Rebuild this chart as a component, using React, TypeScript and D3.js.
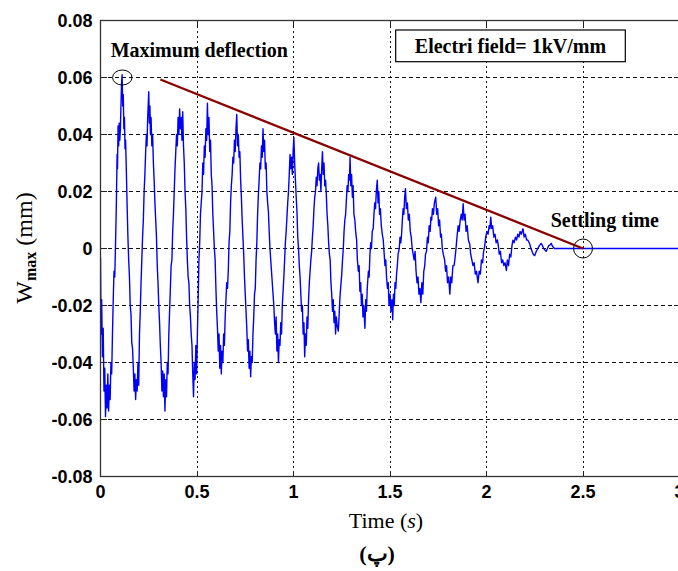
import React from 'react';
import * as d3 from 'd3';

const WIDTH = 678;
const HEIGHT = 571;

const xTicks = [0, 0.5, 1, 1.5, 2, 2.5, 3];
const xTickLabels = ['0', '0.5', '1', '1.5', '2', '2.5', '3'];
const yTicks = [-0.08, -0.06, -0.04, -0.02, 0, 0.02, 0.04, 0.06, 0.08];
const yTickLabels = ['-0.08', '-0.06', '-0.04', '-0.02', '0', '0.02', '0.04', '0.06', '0.08'];

// trend (envelope) line, from max deflection toward settling time
const trendLine: [number, number][] = [[0.31, 0.0593], [2.5, 0]];
// annotated points: maximum deflection, settling time
const markerMax: [number, number] = [0.113, 0.06];
const markerSettle: [number, number] = [2.5, 0];

const annotationMax = 'Maximum deflection';
const annotationSettle = 'Settling time';
const legendText = 'Electri field= 1kV/mm';
const xLabel = 'Time';
const caption = '(پ)';

// W_max (mm) vs time (s)
const signal: [number, number][] = [
  [0.000,-0.003],[0.003,-0.030],[0.006,-0.018],[0.010,-0.038],[0.014,-0.028],[0.018,-0.050],[0.022,-0.042],[0.026,-0.059],
  [0.030,-0.048],[0.034,-0.056],[0.038,-0.044],[0.042,-0.057],[0.046,-0.048],[0.050,-0.053],[0.054,-0.040],[0.058,-0.044],
  [0.062,-0.030],[0.066,-0.018],[0.070,-0.008],[0.074,-0.010],[0.078,0.002],[0.082,0.015],[0.086,0.033],[0.088,0.028],
  [0.091,0.043],[0.094,0.036],[0.097,0.044],[0.100,0.038],[0.103,0.042],[0.106,0.050],[0.109,0.058],[0.112,0.061],
  [0.115,0.050],[0.118,0.054],[0.121,0.042],[0.124,0.046],[0.127,0.035],[0.130,0.038],[0.134,0.027],[0.138,0.015],
  [0.142,0.004],[0.146,-0.004],[0.150,-0.010],[0.154,-0.020],[0.158,-0.023],[0.162,-0.033],[0.166,-0.035],[0.170,-0.042],
  [0.174,-0.050],[0.178,-0.044],[0.182,-0.053],[0.186,-0.046],[0.190,-0.050],[0.194,-0.040],[0.198,-0.048],[0.202,-0.030],
  [0.206,-0.022],[0.210,-0.012],[0.214,-0.004],[0.218,0.004],[0.222,0.010],[0.226,0.020],[0.230,0.026],[0.234,0.034],
  [0.238,0.040],[0.241,0.036],[0.244,0.045],[0.247,0.050],[0.250,0.055],[0.253,0.044],[0.256,0.050],[0.259,0.040],
  [0.262,0.046],[0.266,0.036],[0.270,0.040],[0.274,0.030],[0.278,0.024],[0.282,0.016],[0.286,0.010],[0.290,0.004],
  [0.294,-0.006],[0.298,-0.012],[0.302,-0.020],[0.306,-0.026],[0.310,-0.034],[0.314,-0.040],[0.318,-0.050],[0.322,-0.043],
  [0.326,-0.052],[0.330,-0.044],[0.334,-0.057],[0.338,-0.046],[0.342,-0.052],[0.346,-0.040],[0.350,-0.044],[0.354,-0.030],
  [0.358,-0.022],[0.362,-0.014],[0.366,-0.006],[0.370,-0.004],[0.374,0.006],[0.378,0.012],[0.382,0.020],[0.386,0.028],
  [0.390,0.034],[0.394,0.040],[0.398,0.036],[0.402,0.046],[0.406,0.040],[0.410,0.049],[0.414,0.042],[0.418,0.046],
  [0.422,0.038],[0.426,0.048],[0.430,0.036],[0.434,0.030],[0.438,0.020],[0.442,0.014],[0.446,0.004],[0.450,-0.004],
  [0.454,-0.010],[0.458,-0.012],[0.462,-0.020],[0.466,-0.024],[0.470,-0.030],[0.474,-0.034],[0.478,-0.044],[0.482,-0.052],
  [0.486,-0.040],[0.490,-0.046],[0.494,-0.034],[0.498,-0.044],[0.502,-0.030],[0.506,-0.018],
  [0.510,-0.004],[0.514,0.002],[0.518,0.012],[0.522,0.016],[0.526,0.020],[0.530,0.030],[0.534,0.026],[0.538,0.036],
  [0.542,0.032],[0.546,0.042],[0.550,0.038],[0.554,0.051],[0.558,0.040],[0.562,0.046],[0.566,0.034],[0.570,0.038],
  [0.574,0.026],[0.578,0.022],[0.582,0.012],[0.586,0.006],[0.590,0.000],[0.594,-0.004],[0.598,-0.014],[0.602,-0.022],
  [0.606,-0.028],[0.610,-0.036],[0.614,-0.030],[0.618,-0.042],[0.622,-0.034],[0.626,-0.044],[0.630,-0.036],[0.634,-0.040],
  [0.638,-0.030],[0.642,-0.034],[0.646,-0.024],
  [0.650,-0.018],[0.654,-0.012],[0.658,-0.014],[0.662,-0.008],[0.666,0.002],[0.670,0.006],[0.674,0.016],[0.678,0.022],
  [0.682,0.026],[0.686,0.032],[0.690,0.030],[0.694,0.038],[0.698,0.034],[0.702,0.042],[0.706,0.047],[0.710,0.036],
  [0.714,0.040],[0.718,0.032],[0.722,0.034],[0.726,0.024],[0.730,0.018],[0.734,0.010],[0.738,0.004],[0.742,-0.002],
  [0.746,-0.010],[0.750,-0.016],[0.754,-0.022],[0.758,-0.028],[0.762,-0.036],[0.766,-0.032],[0.770,-0.042],[0.774,-0.036],
  [0.778,-0.045],[0.782,-0.038],[0.786,-0.040],[0.790,-0.030],
  [0.794,-0.024],[0.798,-0.016],[0.802,-0.014],[0.806,-0.004],[0.810,0.002],[0.814,0.012],[0.818,0.019],[0.822,0.024],
  [0.826,0.030],[0.830,0.028],[0.834,0.036],[0.838,0.032],[0.842,0.042],[0.846,0.034],[0.850,0.038],[0.854,0.028],
  [0.858,0.030],[0.862,0.020],[0.866,0.016],[0.870,0.013],[0.874,0.006],[0.878,0.000],[0.882,-0.004],[0.886,-0.008],
  [0.890,-0.012],[0.894,-0.016],[0.898,-0.020],[0.902,-0.026],[0.906,-0.030],[0.910,-0.024],[0.914,-0.036],[0.918,-0.030],
  [0.922,-0.040],[0.926,-0.032],[0.930,-0.034],[0.934,-0.026],[0.938,-0.030],[0.942,-0.020],
  [0.946,-0.015],[0.950,-0.010],[0.954,-0.004],[0.958,0.002],[0.962,0.006],[0.966,0.011],[0.970,0.016],[0.974,0.020],
  [0.978,0.026],[0.982,0.033],[0.986,0.028],[0.990,0.032],[0.994,0.026],[0.998,0.034],[1.002,0.039],[1.006,0.030],
  [1.010,0.024],[1.014,0.018],[1.018,0.013],[1.022,0.004],[1.026,0.000],[1.030,-0.006],[1.034,-0.010],[1.038,-0.016],
  [1.042,-0.022],[1.046,-0.020],[1.050,-0.030],[1.054,-0.026],[1.058,-0.038],[1.062,-0.030],[1.066,-0.034],[1.070,-0.024],
  [1.074,-0.028],[1.078,-0.018],
  [1.082,-0.012],[1.086,-0.008],[1.090,-0.004],[1.094,-0.001],[1.098,0.004],[1.102,0.008],[1.106,0.014],[1.110,0.018],
  [1.114,0.020],[1.118,0.025],[1.122,0.022],[1.126,0.028],[1.130,0.030],[1.134,0.024],[1.138,0.026],[1.142,0.020],
  [1.146,0.028],[1.150,0.034],[1.154,0.026],[1.158,0.030],[1.162,0.022],[1.166,0.024],[1.170,0.019],[1.174,0.012],
  [1.178,0.008],[1.182,0.002],[1.186,-0.002],[1.190,-0.004],[1.194,-0.012],[1.198,-0.016],[1.202,-0.022],[1.206,-0.018],
  [1.210,-0.026],[1.214,-0.022],[1.218,-0.030],[1.222,-0.024],[1.226,-0.027],[1.232,-0.029],
  [1.236,-0.024],[1.240,-0.018],[1.244,-0.014],[1.250,-0.009],[1.254,-0.004],[1.258,0.000],[1.262,0.006],[1.266,0.010],
  [1.270,0.012],[1.274,0.017],[1.278,0.022],[1.282,0.020],[1.286,0.026],[1.290,0.024],[1.293,0.032],[1.297,0.022],
  [1.301,0.026],[1.305,0.018],[1.309,0.022],[1.313,0.012],[1.318,0.010],[1.322,0.006],[1.327,0.003],[1.331,-0.004],
  [1.336,-0.008],[1.340,-0.006],[1.344,-0.015],[1.348,-0.012],[1.352,-0.020],[1.356,-0.016],[1.360,-0.024],[1.364,-0.020],
  [1.370,-0.028],[1.374,-0.018],[1.378,-0.022],[1.382,-0.014],
  [1.388,-0.008],[1.392,-0.010],[1.396,-0.002],[1.400,0.002],[1.404,0.000],[1.408,0.006],[1.413,0.007],[1.417,0.012],
  [1.421,0.016],[1.425,0.014],[1.429,0.020],[1.434,0.024],[1.438,0.016],[1.442,0.020],[1.446,0.012],[1.450,0.014],
  [1.455,0.008],[1.460,0.005],[1.465,0.003],[1.470,-0.002],[1.474,-0.006],[1.478,-0.004],[1.482,-0.010],[1.487,-0.014],
  [1.491,-0.012],[1.495,-0.020],[1.500,-0.016],[1.505,-0.022],[1.510,-0.018],[1.514,-0.025],[1.518,-0.016],[1.522,-0.020],
  [1.526,-0.012],
  [1.530,-0.014],[1.534,-0.009],[1.538,-0.006],[1.542,-0.002],[1.548,0.000],[1.552,0.004],[1.556,0.002],[1.560,0.005],
  [1.564,0.010],[1.568,0.014],[1.572,0.012],[1.576,0.018],[1.580,0.021],[1.585,0.014],[1.590,0.016],[1.595,0.010],
  [1.600,0.012],[1.605,0.006],[1.610,0.004],[1.615,0.000],[1.620,-0.002],[1.625,-0.004],[1.630,-0.001],[1.635,-0.008],
  [1.640,-0.012],[1.645,-0.010],[1.650,-0.016],[1.655,-0.014],[1.660,-0.019],[1.665,-0.012],[1.670,-0.016],[1.675,-0.008],
  [1.680,-0.006],[1.684,-0.002],[1.689,-0.001],[1.694,0.004],[1.698,0.002],[1.703,0.008],[1.708,0.006],[1.712,0.011],
  [1.716,0.010],[1.720,0.014],[1.725,0.012],[1.730,0.016],[1.737,0.018],[1.742,0.012],[1.747,0.014],[1.752,0.008],
  [1.757,0.010],[1.762,0.004],[1.766,0.005],[1.771,0.000],[1.776,-0.002],[1.783,-0.004],[1.788,-0.008],[1.793,-0.006],
  [1.798,-0.012],[1.804,-0.010],[1.810,-0.016],[1.815,-0.010],[1.820,-0.012],[1.826,-0.006],
  [1.832,-0.006],[1.836,-0.004],[1.842,0.000],[1.847,0.004],[1.853,0.008],[1.858,0.006],[1.864,0.010],[1.869,0.012],
  [1.874,0.010],[1.879,0.0157],[1.884,0.010],[1.889,0.012],[1.894,0.006],[1.900,0.008],[1.906,0.003],[1.913,0.0016],
  [1.918,-0.002],[1.924,-0.004],[1.930,-0.006],[1.936,-0.005],[1.942,-0.009],[1.948,-0.008],[1.956,-0.012],[1.962,-0.008],
  [1.968,-0.009],[1.974,-0.004],[1.980,-0.005],[1.985,-0.001],
  [1.990,0.0005],[1.996,0.004],[2.002,0.006],[2.008,0.005],[2.014,0.008],[2.018,0.007],[2.022,0.011],[2.027,0.007],
  [2.032,0.008],[2.038,0.004],[2.044,0.005],[2.050,0.002],[2.056,0.003],[2.060,0.0016],[2.066,-0.002],[2.072,-0.001],
  [2.078,-0.005],[2.084,-0.004],[2.090,-0.006],[2.096,-0.005],[2.103,-0.0077],[2.108,-0.004],[2.114,-0.006],[2.120,-0.002],
  [2.126,-0.003],[2.132,0.001],
  [2.137,0.0029],[2.143,0.002],[2.150,0.004],[2.156,0.003],[2.162,0.005],[2.168,0.004],[2.174,0.006],[2.180,0.005],
  [2.189,0.0069],[2.195,0.004],[2.201,0.005],[2.208,0.003],[2.214,0.003],[2.224,0.0016],[2.230,0.000],[2.236,-0.001],
  [2.242,-0.002],[2.250,-0.0025],[2.258,-0.001],[2.266,0.000],[2.274,0.001],[2.283,0.0018],[2.290,0.001],[2.296,0.000],
  [2.302,-0.0005],[2.309,-0.001],[2.316,0.000],[2.322,0.001],[2.328,0.0012],[2.335,0.0018],[2.342,0.0008],[2.352,0.0],
  [2.370,0.0],[3.0,0.0],
];

const SERIF = '"Liberation Serif", "Times New Roman", "DejaVu Serif", serif';
const SANS = '"Liberation Sans", Arial, sans-serif';

export default function App() {
  const x = d3.scaleLinear().domain([0, 3]).range([100.5, 679.5]);
  const y = d3.scaleLinear().domain([-0.08, 0.08]).range([476.5, 20.5]);
  const line = d3.line<[number, number]>().x((d) => x(d[0])).y((d) => y(d[1]));
  const x0 = x(0), x1 = x(3), y0 = y(-0.08), y1 = y(0.08);
  const tick = 6;
  const sx = (v: number) => Math.round(x(v) - 0.5) + 0.5;

  return (
    <svg width={WIDTH} height={HEIGHT} style={{ position: 'absolute', left: 0, top: 0, background: '#fff' }}>
      <defs>
        <clipPath id="plot">
          <rect x={x0} y={y1} width={x1 - x0} height={y0 - y1} />
        </clipPath>
      </defs>
      <rect x={0} y={0} width={WIDTH} height={HEIGHT} fill="#fff" />
      {/* grid */}
      <g stroke="#111" strokeWidth={1} shapeRendering="crispEdges">
        {yTicks.slice(1, -1).map((t) => (
          <line key={'gy' + t} x1={x0} x2={x1} y1={y(t)} y2={y(t)} strokeDasharray="4,3" />
        ))}
        {xTicks.slice(1, -1).map((t) => (
          <line key={'gx' + t} x1={sx(t)} x2={sx(t)} y1={y1} y2={y0} strokeDasharray="2,3" />
        ))}
      </g>
      {/* ticks */}
      <g stroke="#222" strokeWidth={1} shapeRendering="crispEdges">
        {xTicks.map((t) => (
          <g key={'tx' + t}>
            <line x1={sx(t)} x2={sx(t)} y1={y0} y2={y0 - tick} />
            <line x1={sx(t)} x2={sx(t)} y1={y1} y2={y1 + tick} />
          </g>
        ))}
        {yTicks.map((t) => (
          <g key={'ty' + t}>
            <line x1={x0} x2={x0 + tick} y1={y(t)} y2={y(t)} />
            <line x1={x1} x2={x1 - tick} y1={y(t)} y2={y(t)} />
          </g>
        ))}
      </g>
      {/* signal */}
      <g clipPath="url(#plot)">
        <path d={line(signal) || ''} fill="none" stroke="#0000ff" strokeWidth={1.4} strokeLinejoin="round" />
        <path d={line(trendLine) || ''} fill="none" stroke="#8b0000" strokeWidth={2.4} />
      </g>
      {/* markers */}
      <ellipse cx={x(markerMax[0])} cy={y(markerMax[1])} rx={9.7} ry={7.5} fill="none" stroke="#000" strokeWidth={1} />
      <circle cx={x(markerSettle[0])} cy={y(markerSettle[1])} r={9.5} fill="none" stroke="#000" strokeWidth={1} />
      {/* axes frame */}
      <rect x={x0} y={y1} width={x1 - x0} height={y0 - y1} fill="none" stroke="#333" strokeWidth={1.3} />
      {/* tick labels */}
      <g fontFamily={SANS} fontWeight="bold" fontSize={18} fill="#000">
        {yTicks.map((t, i) => (
          <text key={'ly' + t} x={x0 - 8} y={y(t)} textAnchor="end" dominantBaseline="central">
            {yTickLabels[i]}
          </text>
        ))}
        {xTicks.map((t, i) => (
          <text key={'lx' + t} x={x(t)} y={498} textAnchor="middle">
            {xTickLabels[i]}
          </text>
        ))}
      </g>
      {/* annotations */}
      <g fontFamily={SERIF} fontWeight="bold" fontSize={20} fill="#000">
        <text x={110.7} y={56.7}>{annotationMax}</text>
        <text x={550.7} y={227.3}>{annotationSettle}</text>
        <rect x={395.7} y={30} width={229.6} height={31.7} fill="#fff" stroke="#000" strokeWidth={1.2} />
        <text x={510.5} y={52.7} textAnchor="middle">{legendText}</text>
      </g>
      {/* axis labels */}
      <text x={386} y={528} textAnchor="middle" fontFamily={SERIF} fontSize={22} fill="#000">
        {xLabel} (<tspan fontStyle="italic">s</tspan>)
      </text>
      <text transform="translate(32,248) rotate(-90)" textAnchor="middle" fontFamily={SERIF} fontSize={24} fill="#000">
        W<tspan fontSize={16} fontWeight="bold" dy={4}>max</tspan><tspan dy={-4}> (mm)</tspan>
      </text>
      <text x={377} y={561} textAnchor="middle" fontFamily={SERIF} fontWeight="bold" fontSize={22} fill="#000">
        {caption}
      </text>
    </svg>
  );
}
